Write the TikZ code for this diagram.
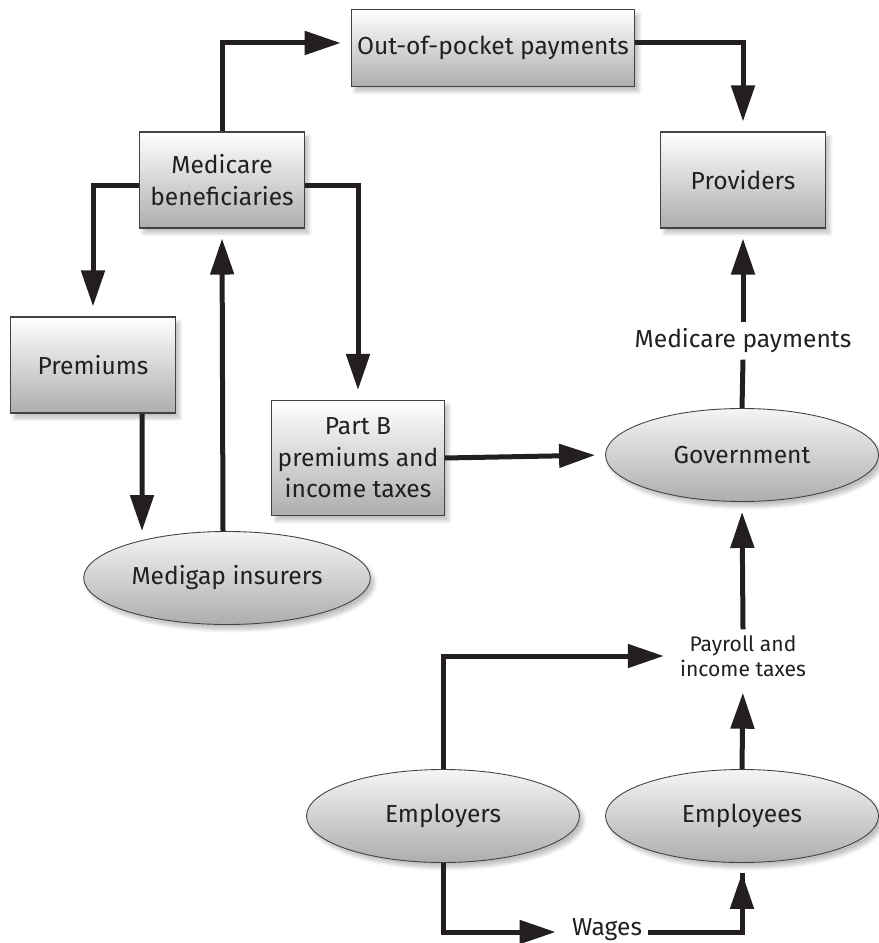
\documentclass[tikz,border=0pt]{standalone}
\usepackage{fontspec}
\setmainfont{Fira Sans}
\usetikzlibrary{arrows.meta,shapes.geometric,shadows.blur}

\definecolor{ink}{HTML}{231F20}

\tikzset{
  box/.style={draw=ink!85, line width=0.6pt, top color=white, bottom color=black!32,
    minimum width=3.3cm, minimum height=1.92cm, align=center,
    blur shadow={shadow xshift=0.08cm, shadow yshift=-0.1cm, shadow blur steps=6, shadow opacity=25}},
  oval/.style={ellipse, draw=ink!85, line width=0.5pt, top color=black!4, bottom color=black!32,
    minimum width=5.46cm, minimum height=1.86cm, align=center,
    blur shadow={shadow xshift=0.08cm, shadow yshift=-0.1cm, shadow blur steps=6, shadow opacity=25}},
  link/.style={draw=ink, line width=0.1cm},
  flow/.style={link, -{Triangle[length=0.72cm,width=0.46cm]}, shorten >=0.2cm},
  flowlabel/.style={inner sep=0.12cm, align=center}
}

\begin{document}
\begin{tikzpicture}[x=1cm,y=1cm, font=\fontsize{14}{17.9}\selectfont, text=ink]
\useasboundingbox (0,0) rectangle (17.56,-18.86);

\node[box, minimum width=5.64cm, minimum height=1.54cm] (oop) at (9.86,-0.96) {Out-of-pocket payments};
\node[box] (prov) at (14.86,-3.6) {Providers};
\node[box] (benef) at (4.44,-3.6) {Medicare\\beneficiaries};
\node[box] (prem) at (1.86,-7.3) {Premiums};
\node[box, minimum width=3.42cm, minimum height=2.3cm] (partb) at (7.16,-9.16) {Part B\\premiums and\\income taxes};
\node[oval] (gov) at (14.84,-9.1) {Government};
\node[oval] (medigap) at (4.54,-11.56) {Medigap insurers};
\node[oval] (employers) at (8.86,-16.32) {Employers};
\node[oval] (employees) at (14.84,-16.32) {Employees};

\node[flowlabel] (medpay) at (14.86,-6.82) {Medicare payments};
\node[flowlabel, font=\fontsize{12}{14}\selectfont] (payroll) at (14.86,-13.12) {Payroll and\\income taxes};
\node[flowlabel, inner ysep=0.01cm] (wages) at (12.14,-18.6) {Wages};

% top row: out-of-pocket money
\draw[flow] (benef.north) |- ([yshift=0.1cm]oop.west);
\draw[flow] ([yshift=0.1cm]oop.east) -| (prov.north);

% beneficiaries pay premiums
\draw[flow] ([yshift=-0.12cm]benef.west) -| (prem.north);
\draw[flow] ([yshift=-0.12cm]benef.east) -| (partb.north);
\draw[flow, shorten >=0pt] ([xshift=0.98cm]prem.south) -- ([xshift=-1.7cm]medigap.north);
\draw[flow] ([xshift=-0.08cm]medigap.north) -- (benef.south);
\draw[flow] (partb.east) -- (gov.west);

\draw[link] (gov.north) -- (medpay.south);
\draw[flow] (medpay.north) -- (prov.south);

% taxes
\draw[flow] (employers.north) |- (payroll.west);
\draw[flow] (employees.north) -- (payroll.south);
\draw[flow] (payroll.north) -- (gov.south);

% wages
\draw[flow] (employers.south) |- ([yshift=-0.04cm]wages.west);
\draw[link] ([yshift=-0.04cm]wages.east) -| ([yshift=-0.2cm]employees.south);
\draw[flow] ([yshift=-0.6cm]employees.south) -- (employees.south);
\end{tikzpicture}
\end{document}
